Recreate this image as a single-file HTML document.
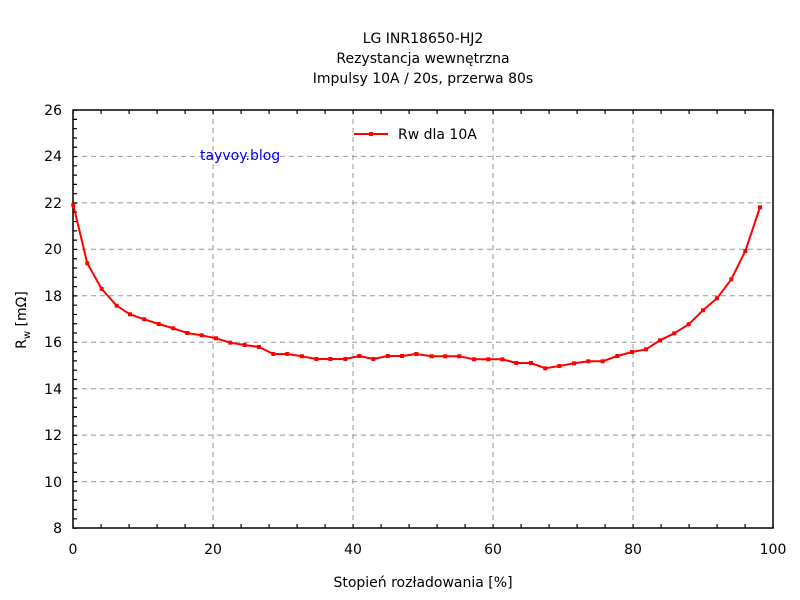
<!DOCTYPE html>
<html><head><meta charset="utf-8"><style>body{margin:0;background:#fff}svg{display:block}</style></head><body>
<svg width="800" height="600" xmlns="http://www.w3.org/2000/svg" font-family="'DejaVu Sans','Liberation Sans',sans-serif">
<defs>
<marker id="sq" markerUnits="userSpaceOnUse" markerWidth="6" markerHeight="6" refX="3" refY="3" viewBox="0 0 6 6"><rect x="1" y="1" width="4" height="4" fill="#f00"/></marker>
</defs>
<rect width="800" height="600" fill="#fff"/>
<g font-size="14" text-anchor="middle" fill="#000">
<text x="423" y="43">LG INR18650-HJ2</text>
<text x="423" y="63">Rezystancja wewnętrzna</text>
<text x="423" y="83">Impulsy 10A / 20s, przerwa 80s</text>
<text x="423" y="587">Stopień rozładowania [%]</text>
</g>
<g stroke="#999" stroke-dasharray="5,4" stroke-width="1">
<line x1="213" y1="110" x2="213" y2="528"/><line x1="353" y1="110" x2="353" y2="528"/><line x1="493" y1="110" x2="493" y2="528"/><line x1="633" y1="110" x2="633" y2="528"/>
<line x1="73" y1="156.4" x2="773" y2="156.4"/><line x1="73" y1="202.9" x2="773" y2="202.9"/><line x1="73" y1="249.3" x2="773" y2="249.3"/><line x1="73" y1="295.8" x2="773" y2="295.8"/><line x1="73" y1="342.2" x2="773" y2="342.2"/><line x1="73" y1="388.7" x2="773" y2="388.7"/><line x1="73" y1="435.1" x2="773" y2="435.1"/><line x1="73" y1="481.6" x2="773" y2="481.6"/>
</g>
<rect x="73" y="110" width="700" height="418" fill="none" stroke="#000" stroke-width="1.5"/>
<g stroke="#000" fill="none">
<line x1="75" y1="109.5" x2="75" y2="529" stroke-width="4" stroke-dasharray="1.2,8.089"/>
<line x1="72.5" y1="526" x2="774" y2="526" stroke-width="4" stroke-dasharray="1.2,26.8"/>
<line x1="72.5" y1="112" x2="774" y2="112" stroke-width="4" stroke-dasharray="1.2,26.8"/>
</g>
<g font-size="14" fill="#000" text-anchor="end">
<text x="62" y="115">26</text><text x="62" y="161">24</text><text x="62" y="208">22</text><text x="62" y="254">20</text><text x="62" y="301">18</text><text x="62" y="347">16</text><text x="62" y="394">14</text><text x="62" y="440">12</text><text x="62" y="487">10</text><text x="62" y="533">8</text>
</g>
<g font-size="14" fill="#000" text-anchor="middle">
<text x="73" y="554">0</text><text x="213" y="554">20</text><text x="353" y="554">40</text><text x="493" y="554">60</text><text x="633" y="554">80</text><text x="773" y="554">100</text>
</g>
<text transform="translate(26,320) rotate(-90)" font-size="14" text-anchor="middle">R<tspan font-size="10" dy="4">w</tspan><tspan dy="-4"> [mΩ]</tspan></text>
<text x="200" y="160" font-size="14" fill="#0000ee">tayvoy.blog</text>
<line x1="354" y1="134" x2="388" y2="134" stroke="#f00" stroke-width="2"/>
<rect x="369" y="132" width="4" height="4" fill="#f00"/>
<text x="398" y="139" font-size="14">Rw dla 10A</text>
<polyline fill="none" stroke="#f00" stroke-width="2" stroke-linejoin="round" marker-start="url(#sq)" marker-mid="url(#sq)" marker-end="url(#sq)" points="73.3,205 87.3,263.3 101.7,289 116.7,305.7 130,314.3 144.3,319.3 158.7,324 173.3,328.3 187.3,333 201.7,335.3 216,338.3 230.3,342.7 244.7,345 259,347 273.3,354 287.3,354 302,356.3 316.3,359 330.3,359 345.3,359 359.3,356 373.3,359 387.7,356 402,356 416.3,354 431.7,356.3 445.3,356.3 459.3,356.3 474,359.3 488.3,359.3 502.3,359.3 516.3,363 531,363 545.3,368.3 559.3,366 574,363.3 588.3,361.3 602.7,361.3 617.3,356 632,352 646,349.3 660,340.3 674.3,333.3 688.7,324.3 703,310.3 717,298.3 731.3,279.3 745.3,251 760,207.3"/>
</svg>
</body></html>
